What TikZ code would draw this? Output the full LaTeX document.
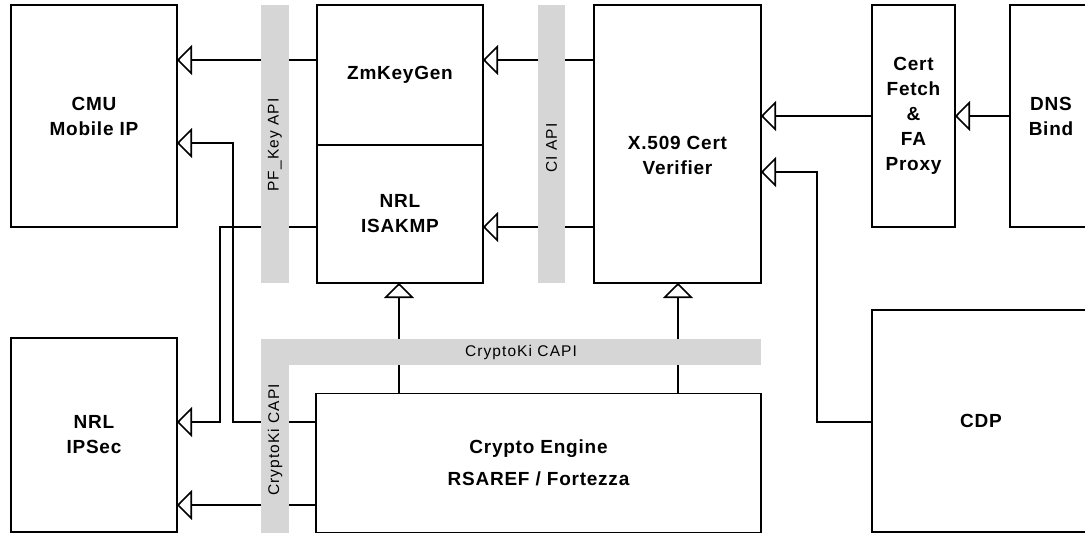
\documentclass[tikz,border=0pt]{standalone}
\usepackage{fontspec}
\setmainfont{Liberation Sans}
\newfontfamily\boxfont{Liberation Sans}[LetterSpace=4]
\newfontfamily\barfont{Liberation Sans}[LetterSpace=7]
\usetikzlibrary{arrows.meta}
\begin{document}
\begin{tikzpicture}[x=1pt,y=-1pt,
  every node/.style={inner sep=0pt, outer sep=0pt},
  comp/.style={draw, line width=1.6pt, rectangle, align=center,
    font=\boxfont\bfseries\fontsize{19}{25}\selectfont},
  apibar/.style={fill=gray!32, rectangle},
  apitext/.style={font=\barfont\fontsize{15.5}{18}\selectfont},
  link/.style={line width=1.6pt},
  arr/.style={link, -{Triangle[open, length=15pt, width=30pt, line width=1.6pt]}}
]
\useasboundingbox[fill=white] (0,0) rectangle (1085,533);

% components
\node[comp, minimum width=166pt, minimum height=222pt] (cmu) at (94,116) {CMU\\Mobile IP};
\node[comp, minimum width=166pt, minimum height=194pt] (ipsec) at (94,435) {NRL\\IPSec};
\node[comp, minimum width=166pt, minimum height=140pt] (zm) at (400,75) {ZmKeyGen};
\node[comp, minimum width=166pt, minimum height=138pt] (isakmp) at (400,214) {NRL\\ISAKMP};
\node[comp, minimum width=167pt, minimum height=278pt] (x509) at (677.5,144) {};
\node[font=\boxfont\bfseries\fontsize{19}{25}\selectfont, align=center] (x509t) at (677.5,155) {X.509 Cert\\Verifier};
\node[comp, minimum width=83pt, minimum height=222pt] (fetch) at (913.5,116) {Cert\\Fetch\\\&\\FA\\Proxy};
\node[comp, minimum width=82pt, minimum height=222pt] (dns) at (1051,116) {DNS\\Bind};
\node[comp, minimum width=218pt, minimum height=222pt] (cdp) at (981,421) {CDP};
\node[comp, minimum width=445pt, minimum height=139pt, font=\boxfont\bfseries\fontsize{19}{32}\selectfont] (ce) at (538.5,463) {Crypto Engine\\RSAREF / Fortezza};

% connectors
\draw[arr] (zm.west|-0,60) -- (cmu.east|-0,60);
\draw[arr] (ce.west|-0,422) -| (233,143) -- (cmu.east|-0,143);
\draw[arr] (isakmp.west|-0,227) -| (220,422) -- (ipsec.east|-0,422);
\draw[arr] (ce.west|-0,505) -- (ipsec.east|-0,505);
\draw[arr] (ce.north-|399,0) -- (isakmp.south-|399,0);
\draw[arr] (ce.north-|678,0) -- (x509.south-|678,0);
\draw[arr] (x509.west|-0,60) -- (zm.east|-0,60);
\draw[arr] (x509.west|-0,227) -- (isakmp.east|-0,227);
\draw[arr] (fetch.west|-0,116) -- (x509.east|-0,116);
\draw[arr] (dns.west|-0,116) -- (fetch.east|-0,116);
\draw[arr] (cdp.west|-0,422) -| (817,172) -- (x509.east|-0,172);

% API bars
\node[apibar, minimum width=28pt, minimum height=278pt] (pfbar) at (275,144) {};
\node[apibar, minimum width=27pt, minimum height=278pt] (cibar) at (551.5,144) {};
\node[apibar, minimum width=500pt, minimum height=26pt] (ckh) at (511,352) {};
\node[apibar, minimum width=28pt, minimum height=170pt] (ckv) at (275,450) {};
\node[apitext, rotate=90] (pft) at (pfbar.center|-0,145) {PF\_Key API};
\node[apitext, rotate=90] (cit) at (cibar.center|-0,148) {CI API};
\node[apitext] (ckht) at (521,352) {CryptoKi CAPI};
\node[apitext, rotate=90] (ckvt) at (ckv.center|-0,440) {CryptoKi CAPI};
\end{tikzpicture}
\end{document}
